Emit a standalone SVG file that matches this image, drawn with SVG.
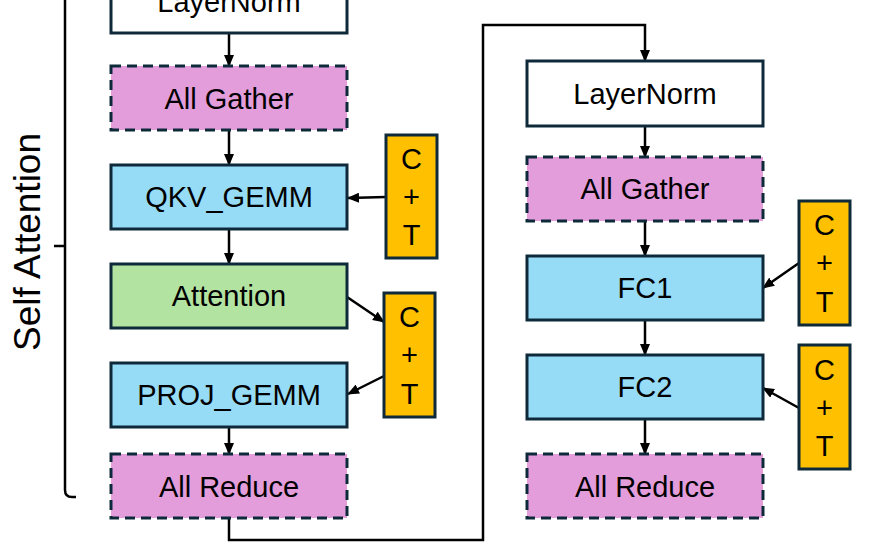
<svg xmlns="http://www.w3.org/2000/svg" width="888" height="560" viewBox="0 0 888 560">
<defs>
<marker id="ah" markerWidth="12" markerHeight="10" refX="11" refY="5" orient="auto" markerUnits="userSpaceOnUse">
<path d="M0,0 L12,5 L0,10 z" fill="#000"/>
</marker>
<style>
.box{stroke:#0e2a3a;stroke-width:3}
.ln{fill:#fff}
.ag{fill:#e39ddb;stroke-dasharray:10 6}
.gm{fill:#97dcf7}
.at{fill:#b3e3a0}
.ct{fill:#ffc000}
.lbl{font-family:"Liberation Sans",Arial,sans-serif;font-size:29px;fill:#000;text-anchor:middle}
.side{font-size:37px}
.conn{stroke:#000;stroke-width:2.5;fill:none}
</style>
</defs>
<rect width="888" height="560" fill="#fff"/>

<g id="bracket">
<path class="conn" d="M65,0 V490 Q65,497 72,497 H76 M54,246 H65"/>
<text class="lbl side" transform="translate(40,242) rotate(-90)">Self Attention</text>
</g>

<g id="connectors">
<line class="conn" x1="229" y1="33" x2="229" y2="66" marker-end="url(#ah)"/>
<line class="conn" x1="229" y1="130" x2="229" y2="165" marker-end="url(#ah)"/>
<line class="conn" x1="229" y1="229" x2="229" y2="264" marker-end="url(#ah)"/>
<line class="conn" x1="229" y1="427" x2="229" y2="454" marker-end="url(#ah)"/>
<line class="conn" x1="386" y1="197" x2="348" y2="198" marker-end="url(#ah)"/>
<line class="conn" x1="347" y1="297" x2="384" y2="322" marker-end="url(#ah)"/>
<line class="conn" x1="384" y1="376" x2="348" y2="394" marker-end="url(#ah)"/>
<path class="conn" d="M229,519 V540 H483 V25 H645 V61" marker-end="url(#ah)"/>
<line class="conn" x1="645" y1="126" x2="645" y2="157" marker-end="url(#ah)"/>
<line class="conn" x1="645" y1="221" x2="645" y2="256" marker-end="url(#ah)"/>
<line class="conn" x1="645" y1="320" x2="645" y2="355" marker-end="url(#ah)"/>
<line class="conn" x1="645" y1="419" x2="645" y2="454" marker-end="url(#ah)"/>
<line class="conn" x1="799" y1="263" x2="763" y2="288" marker-end="url(#ah)"/>
<line class="conn" x1="799" y1="408" x2="763" y2="388" marker-end="url(#ah)"/>
</g>

<g id="ln1"><rect class="box ln" x="111" y="-31" width="236" height="64"/><text class="lbl" x="229" y="12">LayerNorm</text></g>
<g id="ag1"><rect class="box ag" x="111" y="66" width="236" height="64"/><text class="lbl" x="229" y="109">All Gather</text></g>
<g id="qkv"><rect class="box gm" x="111" y="165" width="236" height="64"/><text class="lbl" x="229" y="207">QKV_GEMM</text></g>
<g id="attn"><rect class="box at" x="111" y="264" width="236" height="64"/><text class="lbl" x="229" y="306">Attention</text></g>
<g id="proj"><rect class="box gm" x="111" y="363" width="236" height="64"/><text class="lbl" x="229" y="405">PROJ_GEMM</text></g>
<g id="ar1"><rect class="box ag" x="111" y="454" width="236" height="64"/><text class="lbl" x="229" y="497">All Reduce</text></g>

<g id="ln2"><rect class="box ln" x="527" y="61" width="236" height="65"/><text class="lbl" x="645" y="104">LayerNorm</text></g>
<g id="ag2"><rect class="box ag" x="527" y="157" width="236" height="64"/><text class="lbl" x="645" y="199">All Gather</text></g>
<g id="fc1"><rect class="box gm" x="527" y="256" width="236" height="64"/><text class="lbl" x="645" y="298">FC1</text></g>
<g id="fc2"><rect class="box gm" x="527" y="355" width="236" height="64"/><text class="lbl" x="645" y="397">FC2</text></g>
<g id="ar2"><rect class="box ag" x="527" y="454" width="236" height="64"/><text class="lbl" x="645" y="497">All Reduce</text></g>

<g id="ct1"><rect class="box ct" x="386" y="135" width="51" height="123"/><text class="lbl" x="411.5" y="169">C</text><text class="lbl" x="411.5" y="207">+</text><text class="lbl" x="411.5" y="245">T</text></g>
<g id="ct2"><rect class="box ct" x="384" y="293" width="51" height="124"/><text class="lbl" x="409.5" y="327">C</text><text class="lbl" x="409.5" y="365">+</text><text class="lbl" x="409.5" y="404">T</text></g>
<g id="ct3"><rect class="box ct" x="799" y="201" width="51" height="124"/><text class="lbl" x="824.5" y="235">C</text><text class="lbl" x="824.5" y="273">+</text><text class="lbl" x="824.5" y="312">T</text></g>
<g id="ct4"><rect class="box ct" x="799" y="345" width="51" height="124"/><text class="lbl" x="824.5" y="380">C</text><text class="lbl" x="824.5" y="418">+</text><text class="lbl" x="824.5" y="456">T</text></g>
</svg>
